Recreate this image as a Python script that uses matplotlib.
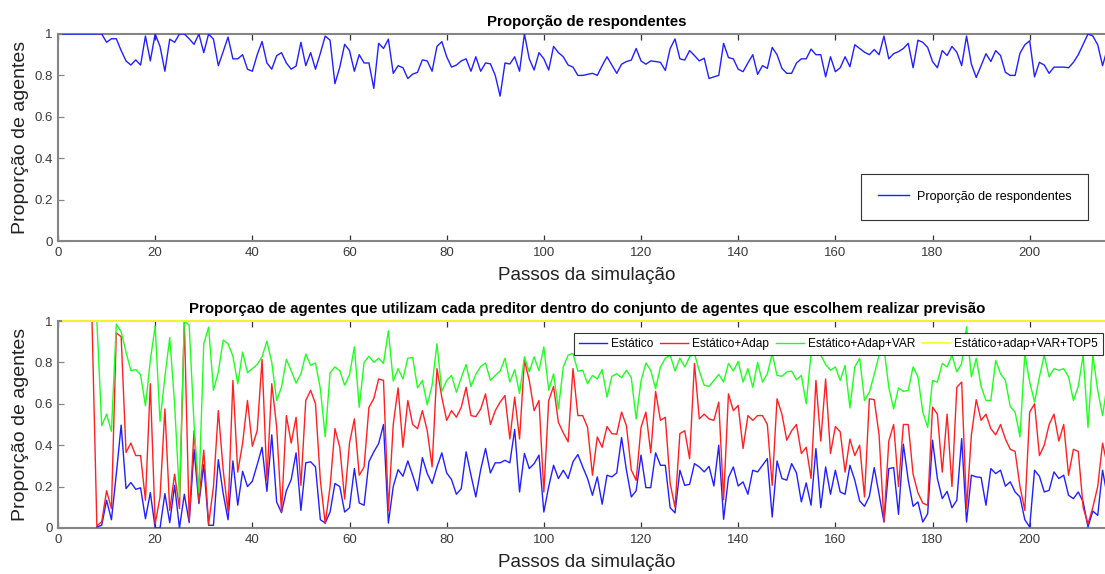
import numpy as np
import matplotlib
matplotlib.use("Agg")
import matplotlib.pyplot as plt

plt.rcParams["font.family"] = ["Liberation Sans", "DejaVu Sans"]

# ----------------------------------------------------------------------
# Simulation output, one value per step (steps start at 1).
# ----------------------------------------------------------------------
n_steps = 216

respondentes = [
    1.0, 1.0, 1.0, 1.0, 1.0, 1.0, 1.0, 1.0, 1.0, 0.96,
    0.977, 0.977, 0.92, 0.87, 0.85, 0.875, 0.85, 0.99, 0.87, 1.0,
    0.94, 0.82, 0.975, 0.96, 1.0, 1.0, 0.977, 0.95, 1.0, 0.91,
    1.0, 0.975, 0.847, 0.915, 0.985, 0.88, 0.88, 0.9, 0.83, 0.82,
    0.9, 0.964, 0.86, 0.83, 0.895, 0.91, 0.86, 0.83, 0.845, 0.96,
    0.847, 0.91, 0.83, 0.907, 0.99, 0.97, 0.76, 0.84, 0.95, 0.92,
    0.82, 0.9, 0.86, 0.86, 0.737, 0.955, 0.93, 0.975, 0.81, 0.847,
    0.837, 0.785, 0.806, 0.815, 0.875, 0.87, 0.82, 0.94, 0.963, 0.89,
    0.84, 0.85, 0.87, 0.88, 0.82, 0.89, 0.82, 0.86, 0.856, 0.8,
    0.7, 0.86, 0.855, 0.89, 0.82, 1.0, 0.88, 0.826, 0.91, 0.88,
    0.826, 0.94, 0.91, 0.89, 0.85, 0.84, 0.8, 0.8, 0.805, 0.81,
    0.8, 0.847, 0.89, 0.85, 0.81, 0.854, 0.867, 0.874, 0.93, 0.87,
    0.854, 0.87, 0.867, 0.863, 0.824, 0.93, 0.976, 0.88, 0.874, 0.92,
    0.896, 0.87, 0.883, 0.785, 0.793, 0.8, 0.955, 0.886, 0.88, 0.83,
    0.818, 0.86, 0.9, 0.805, 0.847, 0.834, 0.935, 0.9, 0.834, 0.81,
    0.81, 0.86, 0.88, 0.88, 0.927, 0.9, 0.9, 0.793, 0.89, 0.818,
    0.837, 0.89, 0.842, 0.948, 0.93, 0.912, 0.9, 0.925, 0.9, 0.99,
    0.88, 0.905, 0.915, 0.93, 0.955, 0.837, 0.97, 0.96, 0.935, 0.867,
    0.837, 0.92, 0.896, 0.94, 0.912, 0.847, 0.99, 0.854, 0.79, 0.847,
    0.905, 0.867, 0.92, 0.896, 0.815, 0.8, 0.8, 0.907, 0.948, 0.967,
    0.793, 0.863, 0.85, 0.81, 0.84, 0.84, 0.84, 0.837, 0.863, 0.9,
    0.95, 1.0, 0.99, 0.948, 0.847, 0.93,
]

# cumulative share of forecasters per predictor family
estatico_start = 8
estatico = [
    0.005, 0.013, 0.134, 0.04, 0.26, 0.497, 0.19, 0.22, 0.187, 0.194,
    0.045, 0.171, 0.0, 0.0, 0.166, 0.026, 0.206, 0.0, 0.163, 0.026,
    0.38, 0.118, 0.306, 0.013, 0.013, 0.33, 0.166, 0.04, 0.324, 0.11,
    0.274, 0.2, 0.226, 0.306, 0.39, 0.177, 0.45, 0.126, 0.074, 0.18,
    0.234, 0.363, 0.085, 0.315, 0.32, 0.295, 0.04, 0.024, 0.077, 0.215,
    0.2, 0.077, 0.098, 0.287, 0.121, 0.11, 0.32, 0.368, 0.408, 0.5,
    0.024, 0.2, 0.282, 0.25, 0.324, 0.255, 0.18, 0.34, 0.263, 0.215,
    0.295, 0.363, 0.266, 0.234, 0.163, 0.19, 0.368, 0.255, 0.15, 0.282,
    0.384, 0.266, 0.315, 0.315, 0.327, 0.315, 0.476, 0.174, 0.36, 0.287,
    0.311, 0.352, 0.077, 0.2, 0.303, 0.239, 0.279, 0.239, 0.32, 0.355,
    0.295, 0.239, 0.158, 0.247, 0.115, 0.255, 0.247, 0.266, 0.437, 0.279,
    0.15, 0.18, 0.352, 0.195, 0.195, 0.363, 0.303, 0.303, 0.098, 0.073,
    0.279, 0.206, 0.211, 0.311, 0.295, 0.271, 0.298, 0.203, 0.4, 0.042,
    0.244, 0.295, 0.203, 0.223, 0.163, 0.279, 0.271, 0.303, 0.335, 0.053,
    0.324, 0.239, 0.231, 0.311, 0.266, 0.126, 0.218, 0.11, 0.384, 0.098,
    0.295, 0.163, 0.279, 0.174, 0.163, 0.303, 0.231, 0.131, 0.105, 0.153,
    0.292, 0.163, 0.029, 0.287, 0.292, 0.066, 0.405, 0.231, 0.105, 0.126,
    0.029, 0.069, 0.424, 0.239, 0.142, 0.177, 0.098, 0.134, 0.432, 0.029,
    0.255, 0.247, 0.244, 0.11, 0.287, 0.263, 0.279, 0.202, 0.223, 0.174,
    0.15, 0.04, 0.005, 0.279, 0.25, 0.174, 0.182, 0.271, 0.239, 0.255,
    0.158, 0.142, 0.174, 0.126, 0.005, 0.082, 0.061, 0.279, 0.15,
]

adap_start = 7
adap = [
    1.0, 0.01, 0.03, 0.18, 0.094, 0.943, 0.924, 0.365, 0.41, 0.35,
    0.35, 0.134, 0.697, 0.02, 0.15, 0.575, 0.085, 0.26, 0.094, 1.0,
    0.037, 0.47, 0.13, 0.376, 0.018, 0.2, 0.567, 0.28, 0.077, 0.713,
    0.27, 0.41, 0.616, 0.395, 0.47, 0.814, 0.23, 0.697, 0.49, 0.077,
    0.543, 0.41, 0.535, 0.206, 0.616, 0.665, 0.6, 0.23, 0.021, 0.2,
    0.48, 0.39, 0.14, 0.41, 0.527, 0.255, 0.295, 0.583, 0.625, 0.72,
    0.713, 0.085, 0.5, 0.677, 0.39, 0.616, 0.5, 0.48, 0.567, 0.47,
    0.295, 0.77, 0.632, 0.52, 0.567, 0.535, 0.583, 0.68, 0.543, 0.538,
    0.575, 0.648, 0.5, 0.567, 0.608, 0.64, 0.43, 0.632, 0.43, 0.81,
    0.713, 0.567, 0.616, 0.174, 0.616, 0.684, 0.51, 0.46, 0.416, 0.77,
    0.543, 0.543, 0.486, 0.255, 0.44, 0.39, 0.49, 0.456, 0.453, 0.56,
    0.494, 0.28, 0.23, 0.486, 0.56, 0.363, 0.66, 0.52, 0.535, 0.215,
    0.1, 0.456, 0.47, 0.335, 0.795, 0.527, 0.55, 0.527, 0.52, 0.608,
    0.137, 0.648, 0.567, 0.592, 0.384, 0.543, 0.52, 0.543, 0.543, 0.5,
    0.206, 0.624, 0.55, 0.424, 0.47, 0.5, 0.36, 0.39, 0.24, 0.713,
    0.42, 0.72, 0.36, 0.49, 0.465, 0.27, 0.43, 0.35, 0.4, 0.15,
    0.624, 0.62, 0.45, 0.03, 0.42, 0.5, 0.2, 0.5, 0.5, 0.26,
    0.17, 0.12, 0.11, 0.584, 0.55, 0.27, 0.55, 0.2, 0.68, 0.705,
    0.094, 0.45, 0.62, 0.52, 0.55, 0.48, 0.45, 0.5, 0.43, 0.38,
    0.37, 0.2, 0.085, 0.56, 0.6, 0.35, 0.4, 0.5, 0.55, 0.42,
    0.5, 0.255, 0.38, 0.37, 0.1, 0.02, 0.1, 0.2, 0.41, 0.3,
]

var_start = 8
adap_var = [
    1.0, 0.494, 0.55, 0.467, 0.985, 0.948, 0.85, 0.76, 0.765, 0.74,
    0.59, 0.81, 0.976, 0.515, 0.73, 0.92, 0.6, 0.15, 1.0, 0.98,
    0.5, 0.17, 0.89, 0.97, 0.665, 0.754, 0.908, 0.89, 0.83, 0.697,
    0.85, 0.75, 0.77, 0.79, 0.827, 0.903, 0.8, 0.616, 0.68, 0.815,
    0.76, 0.7, 0.745, 0.84, 0.786, 0.797, 0.673, 0.44, 0.75, 0.778,
    0.76, 0.69, 0.74, 0.875, 0.583, 0.8, 0.83, 0.8, 0.82, 0.795,
    0.953, 0.71, 0.77, 0.72, 0.82, 0.824, 0.677, 0.713, 0.595, 0.69,
    0.89, 0.66, 0.713, 0.737, 0.656, 0.726, 0.79, 0.684, 0.742, 0.78,
    0.797, 0.713, 0.737, 0.758, 0.82, 0.705, 0.765, 0.65, 0.827, 0.754,
    0.827, 0.76, 0.875, 0.665, 0.745, 0.575, 0.778, 0.835, 0.843, 0.758,
    0.762, 0.697, 0.737, 0.72, 0.765, 0.632, 0.733, 0.745, 0.726, 0.762,
    0.726, 0.527, 0.71, 0.797, 0.762, 0.673, 0.778, 0.82, 0.835, 0.758,
    0.82, 0.778, 0.827, 0.843, 0.758, 0.69, 0.684, 0.713, 0.742, 0.705,
    0.795, 0.758, 0.805, 0.705, 0.77, 0.68, 0.8, 0.705, 0.745, 0.843,
    0.737, 0.733, 0.754, 0.758, 0.716, 0.737, 0.6, 0.843, 0.88, 0.835,
    0.79, 0.762, 0.778, 0.713, 0.786, 0.58, 0.778, 0.82, 0.616, 0.656,
    0.742, 0.835, 0.87, 0.68, 0.575, 0.677, 0.66, 0.665, 0.778, 0.73,
    0.56, 0.486, 0.713, 0.705, 0.795, 0.778, 0.835, 0.754, 0.795, 0.972,
    0.73, 0.82, 0.684, 0.616, 0.616, 0.81, 0.745, 0.713, 0.587, 0.56,
    0.44, 0.843, 0.705, 0.608, 0.73, 0.835, 0.73, 0.77, 0.762, 0.77,
    0.73, 0.616, 0.684, 0.835, 0.486, 0.835, 0.665, 0.543, 0.7,
]

top5_start = 1
adap_var_top5 = [1.0] * n_steps

legend_labels = ["Estático", "Estático+Adap", "Estático+Adap+VAR",
                 "Estático+adap+VAR+TOP5"]
x_ticks = list(range(0, 201, 20))
y_ticks = [0, 0.2, 0.4, 0.6, 0.8, 1]
y_tick_labels = ["0", "0.2", "0.4", "0.6", "0.8", "1"]

AXIS_GRAY = "#858585"
TEXT_GRAY = "#3a3a3a"


def steps_from(start, values):
    return np.arange(start, start + len(values))


def style_axes(ax):
    ax.set_xlim(0, 215.5)
    ax.set_ylim(0, 1)
    ax.set_xticks(x_ticks)
    ax.set_xticklabels([str(t) for t in x_ticks])
    ax.set_yticks(y_ticks)
    ax.set_yticklabels(y_tick_labels)
    ax.tick_params(direction="in", length=4, width=0.9, color="#333333",
                   labelsize=9.5, labelcolor=TEXT_GRAY, top=True, pad=4)
    ax.tick_params(axis="y", color=AXIS_GRAY)
    for side in ("left", "bottom", "top"):
        ax.spines[side].set_color(AXIS_GRAY)
        ax.spines[side].set_linewidth(1.5)
    ax.spines["right"].set_visible(False)
    ax.set_xlabel("Passos da simulação", fontsize=13.6, color="#222222",
                  labelpad=6, x=0.505)
    ax.set_ylabel("Proporção de agentes", fontsize=14, color="#222222", labelpad=4)


fig = plt.figure(figsize=(11.05, 5.74), dpi=100)
ax1 = fig.add_axes([58 / 1105, 1 - 241 / 574, 1 - 58 / 1105, 207 / 574])
ax2 = fig.add_axes([58 / 1105, 1 - 528 / 574, 1 - 58 / 1105, 207 / 574])

# --- top: share of agents that answer --------------------------------
ax1.plot(steps_from(1, respondentes), respondentes, color="#2020ff", lw=1.0,
         label="Proporção de respondentes", zorder=3)
style_axes(ax1)
ax1.set_title("Proporção de respondentes", fontsize=10.8, fontweight="bold",
              pad=6, x=0.505)
leg1 = ax1.legend(loc="center", bbox_to_anchor=(0.8753, 0.214), fontsize=9,
                  handlelength=2.5, handletextpad=0.6, borderpad=1.35,
                  fancybox=False, framealpha=1, edgecolor="#333333")
leg1.get_frame().set_linewidth(0.8)

# --- bottom: predictor usage among forecasters ------------------------
ax2.plot(steps_from(estatico_start, estatico), estatico, color="#2020ff", lw=1.0,
         label=legend_labels[0], zorder=3)
ax2.plot(steps_from(adap_start, adap), adap, color="#ff2020", lw=1.0,
         label=legend_labels[1], zorder=3)
ax2.plot(steps_from(var_start, adap_var), adap_var, color="#20ff20", lw=1.0,
         label=legend_labels[2], zorder=3)
ax2.plot(steps_from(top5_start, adap_var_top5), adap_var_top5, color="#ffff20",
         lw=1.3, label=legend_labels[3], clip_on=False, zorder=3)
style_axes(ax2)
ax2.set_title("Proporçao de agentes que utilizam cada preditor dentro do conjunto "
              "de agentes que escolhem realizar previsão",
              fontsize=10.8, fontweight="bold", pad=6, x=0.505)
leg2 = ax2.legend(loc="upper right", bbox_to_anchor=(0.998, 0.942),
                  borderaxespad=0, ncol=4, fontsize=8.6, handlelength=2.35,
                  handletextpad=0.33, columnspacing=0.57, borderpad=0.4,
                  fancybox=False, framealpha=1, edgecolor="#333333")
leg2.get_frame().set_linewidth(0.8)

fig.savefig("out.png", dpi=100)
